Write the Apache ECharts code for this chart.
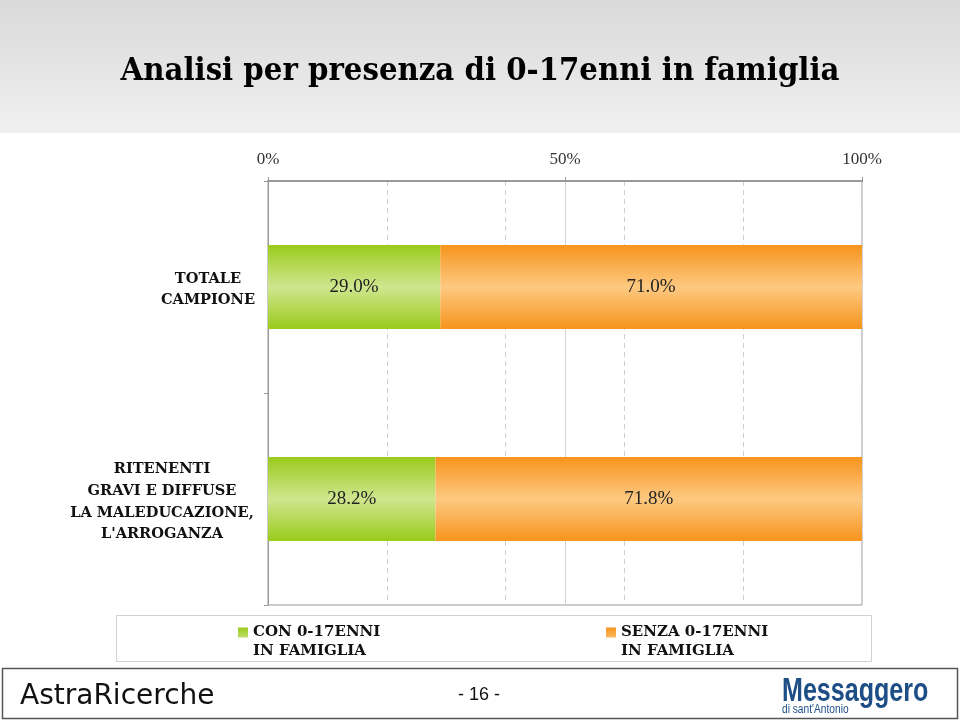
<!DOCTYPE html>
<html><head><meta charset="utf-8">
<script src="https://cdn.jsdelivr.net/npm/echarts@6/dist/echarts.min.js"></script>
<style>html,body{margin:0;padding:0;background:#fff}#c{width:960px;height:720px}</style>
</head><body><div id="c"></div>
<script>
const titleText = 'Analisi per presenza di 0-17enni in famiglia';
const categories = ['TOTALE\nCAMPIONE', 'RITENENTI\nGRAVI E DIFFUSE\nLA MALEDUCAZIONE,\nL\'ARROGANZA'];
const seriesNames = ['CON 0-17ENNI\nIN FAMIGLIA', 'SENZA 0-17ENNI\nIN FAMIGLIA'];
const conValues = [29.0, 28.2];
const senzaValues = [71.0, 71.8];
const axisTicks = [0, 50, 100];

const chart = echarts.init(document.getElementById('c'));
const serif = 'DejaVu Serif';
function grad(edge, mid) {
  return new echarts.graphic.LinearGradient(0, 0, 0, 1, [
    {offset: 0, color: edge}, {offset: 0.5, color: mid}, {offset: 1, color: edge}
  ]);
}
const labelW = [94, 186];
const legendIcon = 'path://M0,0H10V10H0Z M0,29H10V29.01H0Z';
const legendText = {fontFamily: serif, fontWeight: 'bold', fontSize: 15, lineHeight: 19, color: '#111'};
const option = {
  animation: false,
  backgroundColor: '#fff',
  grid: {left: 268, right: 98, top: 181, bottom: 115, show: true, borderColor: '#999', borderWidth: 1},
  xAxis: [{
    type: 'value', position: 'top', min: 0, max: 100, interval: 50,
    axisLine: {show: true, lineStyle: {color: '#999', width: 2}},
    axisTick: {show: true, length: 4, lineStyle: {color: '#999'}},
    axisLabel: {formatter: v => axisTicks.includes(v) ? v + '%' : '', fontFamily: 'Liberation Serif', fontSize: 17, color: '#333', margin: 13},
    splitLine: {show: true, lineStyle: {color: '#d4d4d4', type: 'solid'}}
  }, {
    type: 'value', position: 'top', min: 0, max: 100, interval: 20,
    axisLine: {show: false}, axisTick: {show: false}, axisLabel: {show: false},
    splitLine: {show: true, lineStyle: {color: '#cfcfcf', type: [5, 4]}}
  }],
  yAxis: {
    type: 'category', inverse: true, data: categories,
    axisLine: {show: true, lineStyle: {color: '#999'}},
    axisTick: {show: true, length: 4, lineStyle: {color: '#999'}},
    axisLabel: {
      margin: 13, align: 'right', padding: [6, 0, 0, 0],
      formatter: (v, i) => v.split('\n').map(l => '{c' + i + '|' + l + '}').join('\n'),
      rich: {
        c0: {width: labelW[0], align: 'center', fontFamily: serif, fontWeight: 'bold', fontSize: 14.6, lineHeight: 21, color: '#111'},
        c1: {width: labelW[1], align: 'center', fontFamily: serif, fontWeight: 'bold', fontSize: 14.6, lineHeight: 21.7, color: '#111'}
      }
    }
  },
  legend: [{
    data: [seriesNames[0]], left: 233, top: 618, itemWidth: 10, itemHeight: 29, icon: legendIcon, itemGap: 5,
    textStyle: legendText
  }, {
    data: [seriesNames[1]], left: 601, top: 618, itemWidth: 10, itemHeight: 29, icon: legendIcon,
    textStyle: legendText
  }],
  series: [{
    name: seriesNames[0], type: 'bar', stack: 't', barWidth: 84, data: conValues,
    itemStyle: {color: grad('#9acb1c', '#cfe68e')},
    label: {show: true, position: 'inside', formatter: p => p.value.toFixed(1) + '%', fontFamily: 'Liberation Serif', fontSize: 19, color: '#222'}
  }, {
    name: seriesNames[1], type: 'bar', stack: 't', barWidth: 84, data: senzaValues,
    itemStyle: {color: grad('#f7941d', '#fdc981')},
    label: {show: true, position: 'inside', formatter: p => p.value.toFixed(1) + '%', fontFamily: 'Liberation Serif', fontSize: 19, color: '#222'}
  }],
  graphic: [
    {type: 'rect', z: -10, shape: {x: 0, y: 0, width: 960, height: 133},
     style: {fill: new echarts.graphic.LinearGradient(0, 0, 0, 1, [{offset: 0, color: '#d9d9d9'}, {offset: 1, color: '#f0f0f0'}])}},
    {type: 'text', x: 480, y: 72, style: {text: titleText, fontFamily: 'DejaVu Serif Condensed', fontWeight: 'bold', fontSize: 32.5, fill: '#000', align: 'center', verticalAlign: 'middle'}},
    {type: 'rect', z: -5, shape: {x: 116.5, y: 615.5, width: 755, height: 46}, style: {fill: '#fff', stroke: '#d0d0d0', lineWidth: 1}},
    {type: 'rect', shape: {x: 2.5, y: 668.5, width: 955, height: 50}, style: {fill: '#fff', stroke: '#555', lineWidth: 1.5}},
    {type: 'text', x: 20, y: 697, style: {text: 'AstraRicerche', fontFamily: 'DejaVu Sans', fontSize: 28, fill: '#111', verticalAlign: 'middle'}},
    {type: 'text', x: 479, y: 695, style: {text: '- 16 -', fontFamily: 'Liberation Sans', fontSize: 18, fill: '#111', align: 'center', verticalAlign: 'middle'}},
    {type: 'text', x: 782, y: 692, scaleX: 0.76, style: {text: 'Messaggero', fontFamily: 'Liberation Sans', fontWeight: 'bold', fontSize: 33, fill: '#1d4f86', verticalAlign: 'middle'}},
    {type: 'text', x: 782, y: 710, scaleX: 0.85, style: {text: 'di sant\'Antonio', fontFamily: 'Liberation Sans', fontSize: 12, fill: '#1d4f86', verticalAlign: 'middle'}}
  ]
};
chart.setOption(option);
</script></body></html>
